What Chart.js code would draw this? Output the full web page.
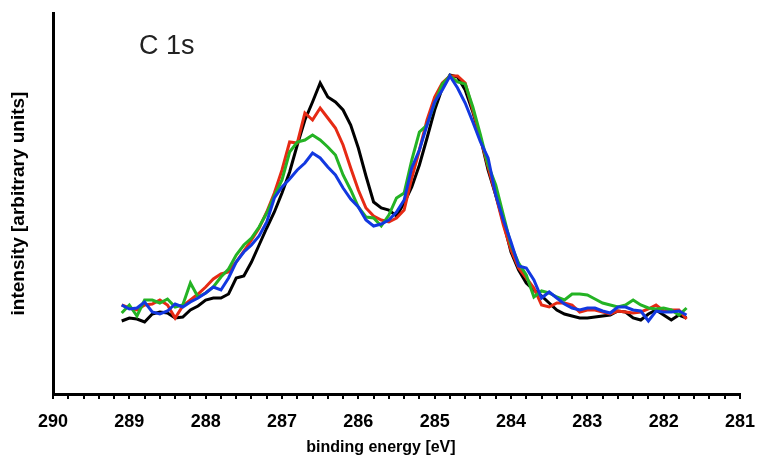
<!DOCTYPE html>
<html>
<head>
<meta charset="utf-8">
<script src="https://cdn.jsdelivr.net/npm/chart.js@4.4.1/dist/chart.umd.min.js"></script>
<style>
  body { margin: 0; background: #fff; }
  canvas { display: block; }
</style>
</head>
<body>
<canvas id="chart" width="757" height="458"></canvas>
<script>
// C 1s spectra, four samples

const energies = [289.1, 289.0, 288.9, 288.8, 288.7, 288.6, 288.5, 288.4, 288.3, 288.2,
  288.1, 288.0, 287.9, 287.8, 287.7, 287.6, 287.5, 287.4, 287.3, 287.2,
  287.1, 287.0, 286.9, 286.8, 286.7, 286.6, 286.5, 286.4, 286.3, 286.2,
  286.1, 286.0, 285.9, 285.8, 285.7, 285.6, 285.5, 285.4, 285.3, 285.2,
  285.1, 285.0, 284.9, 284.8, 284.7, 284.6, 284.5, 284.4, 284.3, 284.2,
  284.1, 284.0, 283.9, 283.8, 283.7, 283.6, 283.5, 283.4, 283.3, 283.2,
  283.1, 283.0, 282.9, 282.8, 282.7, 282.6, 282.5, 282.4, 282.3, 282.2,
  282.1, 282.0, 281.9, 281.8, 281.7]

const blackSeries = [70, 73, 72, 69, 77, 79, 78, 73, 74, 81,
  85, 91, 93, 93, 97, 113, 115, 129, 146, 163,
  179, 198, 219, 246, 271, 289, 308, 294, 289, 281,
  266, 243, 215, 189, 183, 181, 175, 188, 204, 226,
  253, 281, 303, 316, 314, 301, 279, 253, 221, 196,
  169, 139, 121, 108, 101, 95, 88, 81, 77, 75,
  73, 73, 74, 75, 76, 80, 79, 73, 71, 77,
  81, 76, 71, 76, 73]

const redSeries = [86, 83, 81, 86, 87, 91, 86, 73, 85, 91,
  97, 104, 112, 117, 119, 129, 140, 151, 163, 179,
  198, 221, 249, 248, 278, 271, 283, 273, 263, 246,
  223, 201, 183, 175, 171, 169, 173, 181, 213, 241,
  271, 294, 308, 315, 315, 308, 281, 253, 224, 196,
  166, 141, 123, 113, 103, 86, 84, 88, 88, 86,
  79, 81, 81, 79, 77, 80, 79, 78, 79, 82,
  86, 80, 81, 81, 72]

const greenSeries = [78, 86, 75, 91, 91, 88, 92, 84, 86, 108,
  94, 98, 104, 114, 122, 136, 146, 153, 164, 178,
  195, 211, 239, 249, 251, 256, 251, 244, 236, 216,
  201, 184, 174, 173, 165, 176, 193, 198, 231, 259,
  266, 288, 307, 315, 309, 307, 284, 256, 226, 206,
  176, 146, 128, 116, 94, 100, 98, 94, 91, 97,
  97, 96, 92, 88, 86, 84, 86, 91, 86, 83,
  82, 83, 81, 76, 83]

const blueSeries = [86, 82, 83, 89, 79, 77, 80, 87, 84, 89,
  93, 98, 104, 101, 113, 129, 139, 146, 155, 169,
  193, 204, 212, 221, 228, 238, 233, 224, 216, 203,
  192, 184, 171, 165, 167, 171, 179, 191, 223, 241,
  266, 289, 301, 315, 303, 288, 269, 249, 233, 196,
  171, 149, 125, 123, 111, 93, 99, 93, 87, 83,
  81, 83, 83, 80, 78, 84, 84, 81, 80, 70,
  80, 79, 79, 80, 76]

const toPoints = values => energies.map((e, i) => ({x: e, y: values[i]}))

const series = (label, values, color, order) => ({
    label: label,
    data: toPoints(values),
    borderColor: color,
    backgroundColor: color,
    borderWidth: 3,
    pointRadius: 0,
    tension: 0,
    order: order
})

// panel label in the upper left
const panelLabel = {
    id: 'panelLabel',
    afterDraw(chart) {
        const ctx = chart.ctx
        ctx.save()
        ctx.font = '27px "Liberation Sans", Arial, sans-serif'
        ctx.fillStyle = '#222'
        ctx.textBaseline = 'alphabetic'
        ctx.fillText('C 1s', 139, 54)
        ctx.restore()
    }
}

const ctx = document.getElementById('chart').getContext('2d')

const spectrumChart = new Chart(ctx, {
    type: 'line',
    data: {
        datasets: [
            series('sample 1', blackSeries, '#000000', 4),
            series('sample 2', redSeries, '#e62a14', 3),
            series('sample 3', greenSeries, '#24b324', 2),
            series('sample 4', blueSeries, '#1238e0', 1)
        ]
    },
    options: {
        responsive: false,
        animation: false,
        layout: { padding: { top: 13, right: 17, bottom: 0, left: 0 } },
        plugins: {
            legend: { display: false },
            tooltip: { enabled: false }
        },
        scales: {
            x: {
                type: 'linear',
                reverse: true,
                min: 281,
                max: 290,
                afterFit: scale => {
                    scale.height = 64
                    scale.paddingLeft = 0
                    scale.paddingRight = 0
                },
                border: { display: true, color: '#000', width: 3 },
                grid: { display: true, drawOnChartArea: false, drawTicks: true, tickLength: 5, color: '#000', lineWidth: 2 },
                ticks: {
                    stepSize: 0.2,
                    autoSkip: false,
                    maxRotation: 0,
                    padding: 12,
                    color: '#000',
                    font: { family: '"Liberation Sans", Arial, sans-serif', size: 18, weight: 'bold' },
                    callback: value => Math.abs(value - Math.round(value)) < 1e-6 ? String(Math.round(value)) : ''
                },
                title: {
                    display: true,
                    text: 'binding energy [eV]       ',
                    color: '#000',
                    padding: { top: 0, bottom: 1 },
                    font: { family: '"Liberation Sans", Arial, sans-serif', size: 16, weight: 'bold' }
                }
            },
            y: {
                min: -3,
                max: 378,
                afterFit: scale => { scale.width = 53 },
                border: { display: true, color: '#000', width: 3 },
                grid: { display: false },
                ticks: { display: false },
                title: {
                    display: true,
                    text: 'intensity [arbitrary units]',
                    color: '#000',
                    padding: { top: 7, bottom: 0 },
                    font: { family: '"Liberation Sans", Arial, sans-serif', size: 19, weight: 'bold' }
                }
            }
        }
    },
    plugins: [panelLabel]
})
</script>
</body>
</html>
